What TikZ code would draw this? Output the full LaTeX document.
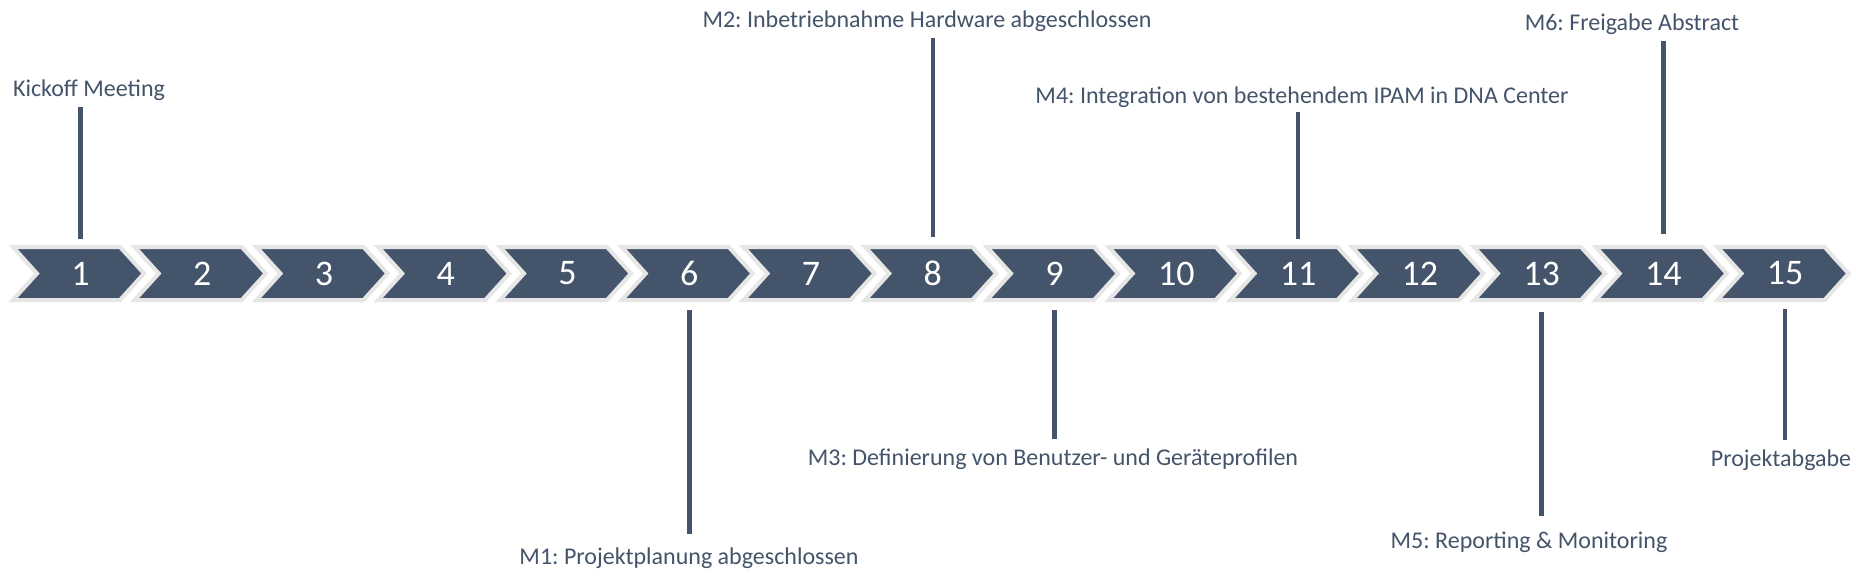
\documentclass[tikz,border=0pt]{standalone}
\usepackage{fontspec}
\setmainfont{Carlito}
\usetikzlibrary{calc}
\definecolor{slate}{HTML}{44546A}
\definecolor{chevline}{HTML}{E7E6E6}
\frenchspacing
\begin{document}
\begin{tikzpicture}[x=1pt,y=-1pt,
  chev/.style={fill=slate,draw=chevline,line width=4pt,line join=miter},
  num/.style={text=white,font=\fontsize{36}{42}\selectfont,inner sep=0pt},
  lab/.style={text=slate,font=\fontsize{24}{28}\selectfont,inner sep=0pt,anchor=base},
  ms/.style={draw=slate,line width=4.5pt}]
\fill[white] (0,0) rectangle (1856,576);
\useasboundingbox (0,0) rectangle (1856,576);
\foreach \i in {1,...,15} {
  \pgfmathsetmacro\xo{13+(\i-1)*121.75}
  \draw[chev] (\xo,247) -- ++(107,0) -- ++(24,26.5) -- ++(-24,26.5) -- ++(-107,0) -- ++(24,-26.5) -- cycle;
  \node[num] (c\i) at (\xo+67.5,273.5) {\i};
}
% upper labels
\node[lab] (l1) at (89,96.7) {Kickoff Meeting};
\node[lab] (l2) at (927,27) {M2: Inbetriebnahme Hardware abgeschlossen};
\node[lab] (l4) at (1302,103.5) {M4: Integration von bestehendem IPAM in DNA Center};
\node[lab] (l6) at (1632,30.5) {M6: Freigabe Abstract};
% lower labels
\node[lab] (l3) at (689,564) {M1: Projektplanung abgeschlossen};
\node[lab] (l5) at (1053,465.5) {M3: Definierung von Benutzer- und Geräteprofilen};
\node[lab] (l7) at (1529,548) {M5: Reporting \& Monitoring};
\node[lab] (l8) at (1781,466.5) {Projektabgabe};
% connectors
\draw[ms] ([yshift=-10.5pt]l1.base -| c1) -- ([yshift=34.5pt]c1.center);
\draw[ms] ([yshift=-10.5pt]l2.base -| c8) -- ([yshift=36.5pt]c8.center);
\draw[ms] ([yshift=-8pt]l4.base -| c11) -- ([yshift=34.5pt]c11.center);
\draw[ms] ([yshift=-10.5pt]l6.base -| c14) -- ([yshift=40pt]c14.center);
\draw[ms] ([yshift=-36.5pt]c6.center) -- ([yshift=30pt]l3.base -| c6);
\draw[ms] ([yshift=-36.5pt]c9.center) -- ([yshift=26.5pt]l5.base -| c9);
\draw[ms] ([yshift=-38.5pt]c13.center) -- ([yshift=32pt]l7.base -| c13);
\draw[ms] ([yshift=-35pt]c15.center) -- ([yshift=26.5pt]l8.base -| c15);
\end{tikzpicture}
\end{document}
